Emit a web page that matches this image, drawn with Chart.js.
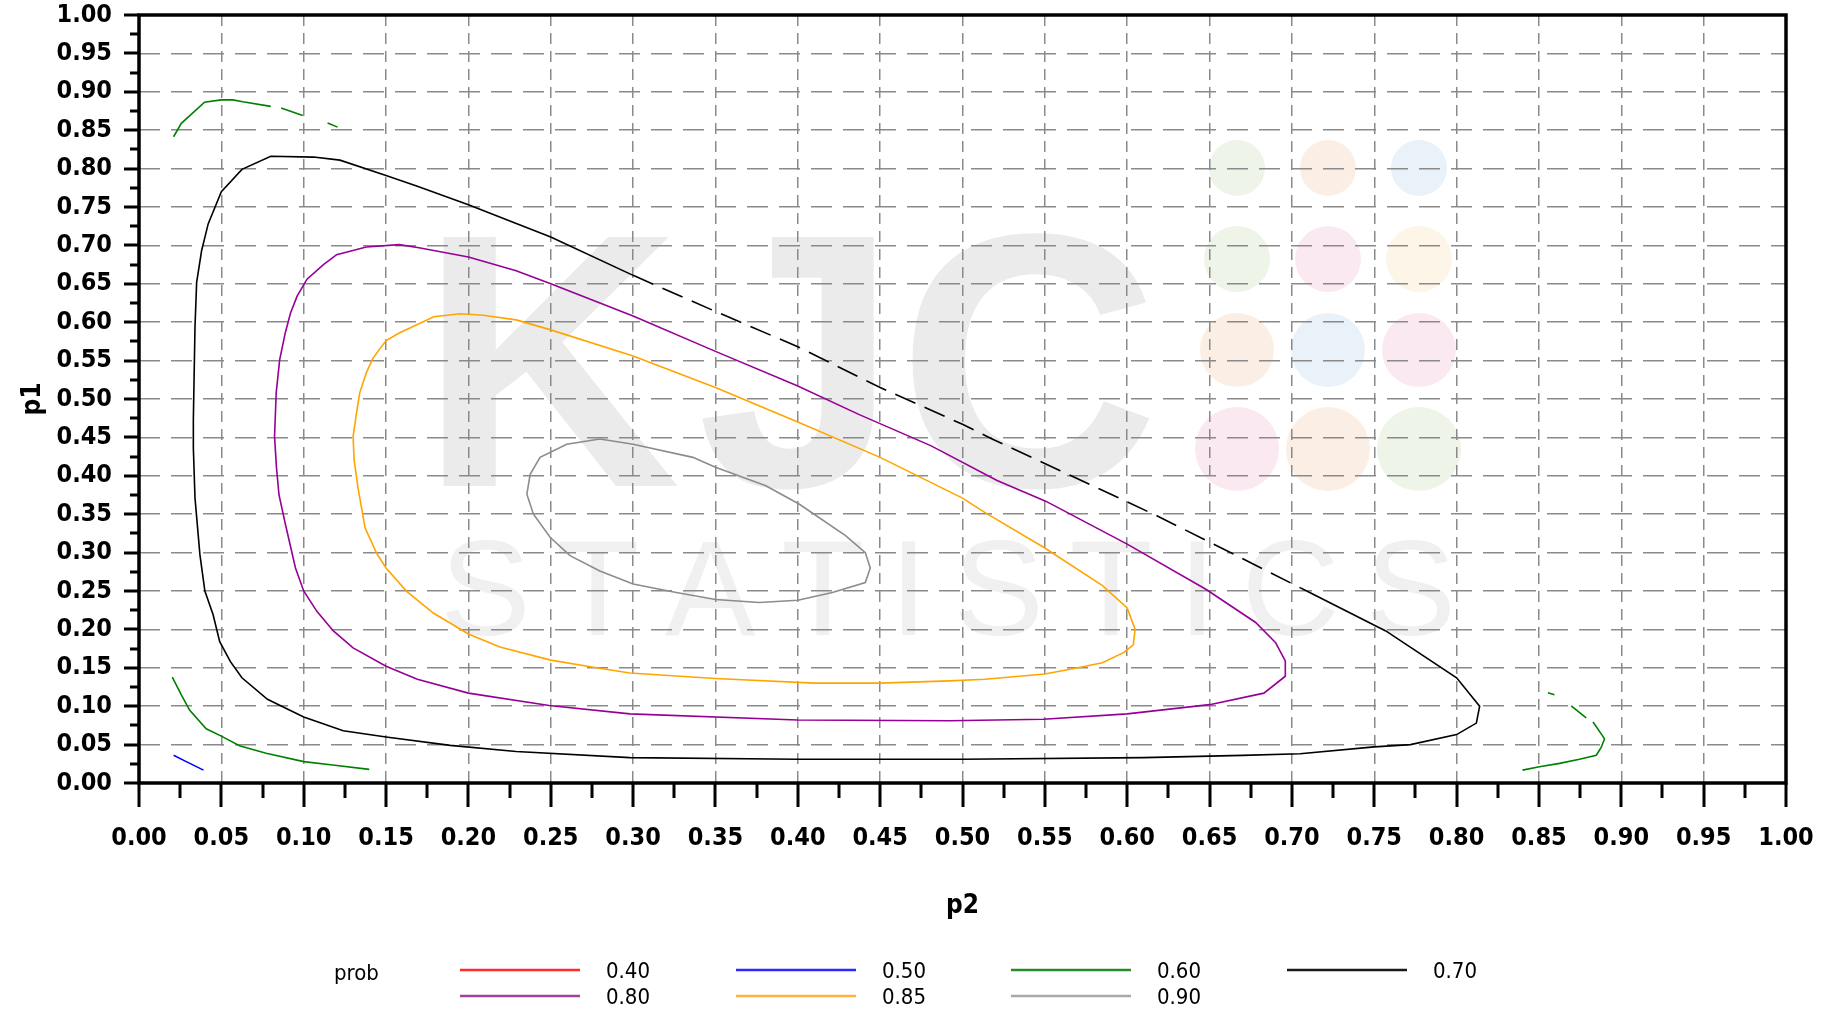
<!DOCTYPE html>
<html>
<head>
<meta charset="utf-8">
<script src="https://cdn.jsdelivr.net/npm/chart.js@4.4.1/dist/chart.umd.min.js"></script>
<style>
html,body{margin:0;padding:0;background:#fff;}
canvas{display:block;}
</style>
</head>
<body>
<canvas id="c" width="1827" height="1016"></canvas>
<script>
// ---------------- DATA ----------------
const levels = ['0.40', '0.50', '0.60', '0.70', '0.80', '0.85', '0.90'];

// prob = 0.40 (no visible contour)
const c040_p2 = [];
const c040_p1 = [];

// prob = 0.50
const c050_p2 = [0.021, 0.0287, 0.0392];
const c050_p1 = [0.0362, 0.0278, 0.0168];

// prob = 0.60 (three pieces, null = break)
const c060_p2 = [0.021, 0.0257, 0.0398, 0.0499, 0.057, 0.063, 0.080, null, 0.0863, 0.0994, null, 0.1145, 0.1206, null,
  0.0202, 0.0257, 0.0307, 0.0408, 0.050, 0.061, 0.0772, 0.100, 0.1176, 0.1398, null,
  0.8554, 0.8594, null, 0.8696, 0.8787, null, 0.8828, 0.8878, 0.8898, 0.8878, 0.8848, 0.8746, 0.8625, 0.8503, 0.840];
const c060_p1 = [0.8415, 0.859, 0.8865, 0.8895, 0.8895, 0.887, 0.881, null, 0.879, 0.869, null, 0.8595, 0.854, null,
  0.138, 0.1148, 0.0949, 0.0706, 0.061, 0.0486, 0.0388, 0.0278, 0.0234, 0.0177, null,
  0.1175, 0.1148, null, 0.1004, 0.0848, null, 0.0795, 0.064, 0.0574, 0.0464, 0.0362, 0.0309, 0.0256, 0.0212, 0.0168];

// prob = 0.70
const c070_p2 = [0.757, 0.800, 0.814, 0.812, 0.800, 0.772, 0.750, 0.705, 0.670, 0.610, 0.500, 0.400, 0.298, 0.229, 0.189,
  0.150, 0.124, 0.100, 0.078, 0.0625, 0.0555, 0.049, 0.045, 0.040, 0.037, 0.034, 0.033, 0.033, 0.034, 0.035, 0.038,
  0.042, 0.050, 0.0625, 0.080, 0.106, 0.122, 0.150, 0.169, 0.200, 0.250, 0.300, 0.350, 0.400, 0.450, 0.500, 0.518,
  0.559, 0.618, 0.659, 0.709, 0.757];
const c070_p1 = [0.198, 0.137, 0.100, 0.078, 0.063, 0.050, 0.047, 0.038, 0.036, 0.033, 0.031, 0.031, 0.033, 0.041, 0.049,
  0.060, 0.068, 0.086, 0.109, 0.137, 0.158, 0.184, 0.219, 0.250, 0.297, 0.371, 0.436, 0.473, 0.594, 0.652, 0.693,
  0.728, 0.770, 0.799, 0.816, 0.815, 0.811, 0.791, 0.777, 0.753, 0.711, 0.661, 0.614, 0.568, 0.515, 0.467, 0.448,
  0.407, 0.348, 0.304, 0.250, 0.198];

// prob = 0.80
const c080_p2 = [0.690, 0.696, 0.696, 0.683, 0.650, 0.600, 0.549, 0.492, 0.400, 0.298, 0.249, 0.200, 0.169, 0.150, 0.130,
  0.118, 0.108, 0.100, 0.095, 0.089, 0.085, 0.0835, 0.0823, 0.0833, 0.0854, 0.0888, 0.092, 0.096, 0.102, 0.112, 0.120,
  0.138, 0.158, 0.170, 0.200, 0.229, 0.250, 0.300, 0.350, 0.400, 0.437, 0.481, 0.521, 0.5505, 0.600, 0.648, 0.678, 0.690];
const c080_p1 = [0.183, 0.159, 0.139, 0.117, 0.102, 0.090, 0.083, 0.081, 0.082, 0.090, 0.101, 0.117, 0.135, 0.152, 0.176,
  0.198, 0.2235, 0.250, 0.280, 0.336, 0.375, 0.410, 0.451, 0.508, 0.551, 0.586, 0.612, 0.634, 0.656, 0.675, 0.688,
  0.698, 0.701, 0.697, 0.685, 0.667, 0.650, 0.608, 0.562, 0.517, 0.480, 0.439, 0.394, 0.367, 0.311, 0.252, 0.209, 0.183];

// prob = 0.85
const c085_p2 = [0.6048, 0.6037, 0.598, 0.585, 0.570, 0.550, 0.5137, 0.492, 0.450, 0.410, 0.350, 0.298, 0.2777, 0.250,
  0.2191, 0.200, 0.1787, 0.1625, 0.150, 0.1443, 0.1373, 0.133, 0.1306, 0.130, 0.132, 0.134, 0.138, 0.142, 0.150, 0.158,
  0.179, 0.195, 0.209, 0.229, 0.250, 0.300, 0.350, 0.400, 0.450, 0.500, 0.5137, 0.550, 0.585, 0.600, 0.6048];
const c085_p1 = [0.200, 0.180, 0.170, 0.1565, 0.150, 0.142, 0.135, 0.133, 0.130, 0.130, 0.136, 0.1433, 0.150, 0.160,
  0.177, 0.194, 0.2213, 0.2495, 0.280, 0.299, 0.332, 0.384, 0.421, 0.451, 0.481, 0.508, 0.534, 0.553, 0.576, 0.586,
  0.607, 0.611, 0.609, 0.603, 0.590, 0.556, 0.515, 0.470, 0.424, 0.371, 0.352, 0.306, 0.257, 0.228, 0.200];

// prob = 0.90
const c090_p2 = [0.2798, 0.2597, 0.2435, 0.2375, 0.2355, 0.2395, 0.2496, 0.2617, 0.2798, 0.300, 0.3262, 0.350, 0.3766,
  0.400, 0.421, 0.441, 0.444, 0.441, 0.429, 0.401, 0.3806, 0.350, 0.3363, 0.300, 0.2798];
const c090_p1 = [0.448, 0.441, 0.424, 0.402, 0.376, 0.350, 0.320, 0.296, 0.276, 0.259, 0.248, 0.239, 0.235, 0.238, 0.248,
  0.261, 0.280, 0.300, 0.322, 0.363, 0.387, 0.411, 0.424, 0.441, 0.448];

// axis ticks
const xTicks = [0.00, 0.05, 0.10, 0.15, 0.20, 0.25, 0.30, 0.35, 0.40, 0.45, 0.50, 0.55, 0.60, 0.65, 0.70, 0.75, 0.80, 0.85, 0.90, 0.95, 1.00];
const yTicks = [0.00, 0.05, 0.10, 0.15, 0.20, 0.25, 0.30, 0.35, 0.40, 0.45, 0.50, 0.55, 0.60, 0.65, 0.70, 0.75, 0.80, 0.85, 0.90, 0.95, 1.00];
const minorTicks = [0.025, 0.075, 0.125, 0.175, 0.225, 0.275, 0.325, 0.375, 0.425, 0.475, 0.525, 0.575, 0.625, 0.675, 0.725, 0.775, 0.825, 0.875, 0.925, 0.975];
const xTitle = 'p2';
const yTitle = 'p1';
const legendTitle = 'prob';

// ---------------- STYLE ----------------
const seriesP2 = [c040_p2, c050_p2, c060_p2, c070_p2, c080_p2, c085_p2, c090_p2];
const seriesP1 = [c040_p1, c050_p1, c060_p1, c070_p1, c080_p1, c085_p1, c090_p1];
const lineColors = ['#ff0000', '#0000ff', '#008000', '#000000', '#960096', '#ffa500', '#8c8c8c'];
const legendColors = ['#ff2a2a', '#2a2aff', '#2a8a2a', '#1a1a1a', '#a040a0', '#ffb43a', '#a8a8a8'];
const TICK_FONT = "'DejaVu Sans Condensed', 'Liberation Sans Narrow', 'DejaVu Sans', sans-serif";
const WM_FONT = "'Liberation Sans', Arial, sans-serif";

function toPoints(xs, ys) {
  return xs.map((x, i) => ({ x: x, y: ys[i] }));
}

const datasets = levels.map((lev, i) => {
  const ds = {
    label: lev,
    data: toPoints(seriesP2[i], seriesP1[i]),
    borderColor: lineColors[i],
    backgroundColor: lineColors[i],
    borderWidth: 1.6,
    pointRadius: 0,
    pointHoverRadius: 0,
    showLine: true,
    fill: false,
    tension: 0,
    spanGaps: false
  };
  if (i === 3) {
    ds.segment = {
      borderDash: ctx => {
        const x0 = seriesP2[3][ctx.p0DataIndex];
        const y0 = seriesP1[3][ctx.p0DataIndex];
        return (x0 >= 0.299 && x0 < 0.66 && y0 > 0.25) ? [22, 10] : undefined;
      }
    };
  }
  return ds;
});

function gridColor(ctx) {
  const v = ctx.tick ? ctx.tick.value : null;
  if (v === null || Math.abs(v) < 1e-9 || Math.abs(v - 1) < 1e-9) return 'rgba(0,0,0,0)';
  return '#8a8a8a';
}

function zeroPad(s) {
  s.paddingTop = 0; s.paddingBottom = 0; s.paddingLeft = 0; s.paddingRight = 0;
}

const decor = {
  id: 'decor',
  beforeDraw(chart) {
    const ctx = chart.ctx;
    ctx.save();
    ctx.fillStyle = '#ffffff';
    ctx.fillRect(0, 0, chart.width, chart.height);

    // watermark circles
    const cx = [1237, 1328, 1419];
    const cy = [168, 259, 350, 449];
    const rr = [28, 33, 37, 42];
    const cc = [
      ['#eef5e8', '#fbefe5', '#e9f1f9'],
      ['#eef5e8', '#fbe9f2', '#fdf6e8'],
      ['#fbefe5', '#e9f1f9', '#fbe9f2'],
      ['#fbe9f2', '#fbefe5', '#eef5e8']
    ];
    for (let r = 0; r < 4; r++) {
      for (let c = 0; c < 3; c++) {
        ctx.beginPath();
        ctx.fillStyle = cc[r][c];
        ctx.arc(cx[c], cy[r], rr[r], 0, Math.PI * 2);
        ctx.fill();
      }
    }
    // watermark text
    ctx.fillStyle = '#ebebeb';
    ctx.font = 'bold 362px ' + WM_FONT;
    ctx.textBaseline = 'alphabetic';
    ctx.textAlign = 'left';
    const kjc = ['K', 'J', 'C'];
    const kjcLeft = [442, 697, 909];
    kjc.forEach((ch, i) => {
      const m = ctx.measureText(ch);
      ctx.fillText(ch, kjcLeft[i] + m.actualBoundingBoxLeft, 486);
    });
    ctx.fillStyle = '#f0f0f0';
    ctx.font = '136px ' + WM_FONT;
    const word = 'STATISTICS';
    let total = 0;
    const widths = [];
    for (const ch of word) { const w = ctx.measureText(ch).width; widths.push(w); total += w; }
    const spacing = (1456 - 440 - total) / (word.length - 1);
    let xx = 440;
    for (let i = 0; i < word.length; i++) {
      ctx.fillText(word[i], xx, 635);
      xx += widths[i] + spacing;
    }
    ctx.restore();
  },
  afterDraw(chart) {
    const ctx = chart.ctx;
    const a = chart.chartArea;
    const xs = chart.scales.x, ys = chart.scales.y;
    ctx.save();
    ctx.strokeStyle = '#000';
    ctx.lineCap = 'butt';
    // tick marks
    ctx.lineWidth = 3;
    ctx.beginPath();
    xTicks.forEach(v => { const p = Math.round(xs.getPixelForValue(v)); ctx.moveTo(p, a.bottom); ctx.lineTo(p, a.bottom + 24); });
    minorTicks.forEach(v => { const p = Math.round(xs.getPixelForValue(v)); ctx.moveTo(p, a.bottom); ctx.lineTo(p, a.bottom + 15); });
    yTicks.forEach(v => { const p = Math.round(ys.getPixelForValue(v)); ctx.moveTo(a.left - 15, p); ctx.lineTo(a.left, p); });
    minorTicks.forEach(v => { const p = Math.round(ys.getPixelForValue(v)); ctx.moveTo(a.left - 9, p); ctx.lineTo(a.left, p); });
    ctx.stroke();
    // frame
    ctx.lineWidth = 3.5;
    ctx.strokeRect(a.left, a.top, a.right - a.left, a.bottom - a.top);

    // axis titles
    ctx.fillStyle = '#000';
    ctx.font = 'bold 26px ' + TICK_FONT;
    ctx.textAlign = 'center';
    ctx.textBaseline = 'middle';
    ctx.fillText(xTitle, (a.left + a.right) / 2, 906);
    ctx.save();
    ctx.translate(33, (a.top + a.bottom) / 2);
    ctx.rotate(-Math.PI / 2);
    ctx.fillText(yTitle, 0, 0);
    ctx.restore();

    // legend
    const colX = [460, 736, 1011, 1287];
    const rowY = [970, 996];
    ctx.font = '22px ' + TICK_FONT;
    ctx.textAlign = 'left';
    ctx.textBaseline = 'middle';
    ctx.fillText(legendTitle, 334, 974);
    chart.data.datasets.forEach((ds, i) => {
      const c = i % 4, r = Math.floor(i / 4);
      const y = rowY[r];
      ctx.strokeStyle = legendColors[i];
      ctx.lineWidth = 2.5;
      ctx.beginPath();
      ctx.moveTo(colX[c], y);
      ctx.lineTo(colX[c] + 120, y);
      ctx.stroke();
      ctx.fillStyle = '#000';
      ctx.fillText(ds.label, colX[c] + 146, y + 2);
    });
    ctx.restore();
  }
};

new Chart(document.getElementById('c'), {
  type: 'scatter',
  data: { datasets: datasets },
  options: {
    responsive: false,
    animation: false,
    devicePixelRatio: 1,
    events: [],
    layout: { padding: { left: 0, top: 15, right: 41, bottom: 0 } },
    plugins: { legend: { display: false }, tooltip: { enabled: false } },
    scales: {
      x: {
        type: 'linear', position: 'bottom', min: 0, max: 1,
        afterBuildTicks: s => { s.ticks = xTicks.map(v => ({ value: v })); },
        afterFit: s => { s.height = 233; zeroPad(s); },
        ticks: {
          autoSkip: false, maxRotation: 0, minRotation: 0, padding: 40, color: '#000',
          font: { family: TICK_FONT, size: 25, weight: 'bold' },
          callback: v => Number(v).toFixed(2)
        },
        grid: { color: gridColor, lineWidth: 1.5, drawTicks: false },
        border: { display: false, dash: [11, 7] }
      },
      y: {
        type: 'linear', position: 'left', min: 0, max: 1,
        afterBuildTicks: s => { s.ticks = yTicks.map(v => ({ value: v })); },
        afterFit: s => { s.width = 139; zeroPad(s); },
        ticks: {
          autoSkip: false, padding: 27, color: '#000',
          font: { family: TICK_FONT, size: 25, weight: 'bold' },
          callback: v => Number(v).toFixed(2)
        },
        grid: { color: gridColor, lineWidth: 1.5, drawTicks: false },
        border: { display: false, dash: [21, 11] }
      }
    }
  },
  plugins: [decor]
});
</script>
</body>
</html>
